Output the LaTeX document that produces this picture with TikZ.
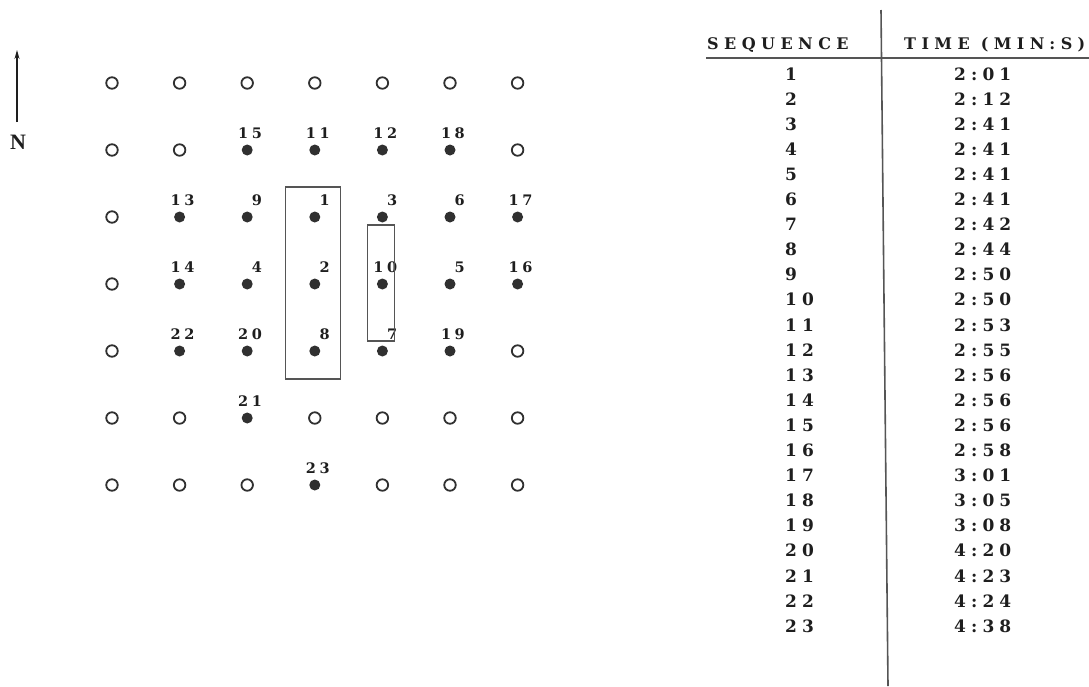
\documentclass[tikz,border=0pt]{standalone}
\usepackage{fontspec}
\setmainfont{Liberation Serif}
\newfontfamily\lblfont[LetterSpace=25]{DejaVu Serif}
\newfontfamily\hdrfont[LetterSpace=34]{DejaVu Serif}
\newfontfamily\tabfont[LetterSpace=30]{DejaVu Serif}
\usetikzlibrary{arrows.meta}
\definecolor{ink}{HTML}{1E1E1E}
\definecolor{dotc}{HTML}{303030}
\definecolor{rulec}{HTML}{555555}
\begin{document}
\begin{tikzpicture}[x=1pt,y=-1pt,
  opendot/.style={circle,draw=dotc,line width=1.8pt,minimum size=11.5pt,inner sep=0pt},
  fulldot/.style={circle,fill=dotc,minimum size=11pt,inner sep=0pt},
  lbl/.style={inner sep=0pt,text=ink,font=\lblfont\bfseries\fontsize{14.5}{15}\selectfont},
  hdr/.style={inner sep=0pt,text=ink,font=\hdrfont\bfseries\fontsize{16}{16}\selectfont},
  cell/.style={inner sep=0pt,text=ink,font=\tabfont\bfseries\fontsize{17}{17}\selectfont},
  box/.style={draw=rulec,line width=1.3pt},
  tabrule/.style={draw=rulec,line width=1.6pt}]
\useasboundingbox (0,0) rectangle (1089,686);
\fill[white] (0,0) rectangle (1089,686);
\clip (0,0) rectangle (1089,686);
% grid positions
\foreach \r in {1,...,7}{
  \foreach \c in {1,...,7}{
    \coordinate (p\r\c) at ({112+67.6*(\c-1)},{83+67*(\r-1)});
  }
}
% open holes
\foreach \r/\c in {1/1,1/2,1/3,1/4,1/5,1/6,1/7,
                   2/1,2/2,2/7,
                   3/1,
                   4/1,
                   5/1,5/7,
                   6/1,6/2,6/4,6/5,6/6,6/7,
                   7/1,7/2,7/3,7/5,7/6,7/7}{
  \node[opendot] (d\r\c) at (p\r\c) {};
}
% fired holes with sequence numbers
\foreach \r/\c/\l in {2/3/15,2/4/11,2/5/12,2/6/18,
                      3/2/13,3/3/9,3/4/1,3/5/3,3/6/6,3/7/17,
                      4/2/14,4/3/4,4/4/2,4/5/10,4/6/5,4/7/16,
                      5/2/22,5/3/20,5/4/8,5/5/7,5/6/19,
                      6/3/21,
                      7/4/23}{
  \node[fulldot] (d\r\c) at (p\r\c) {};
  \node[lbl,anchor=south east] (l\r\c) at ([shift={(15,-11)}]d\r\c.center) {\l};
}
% boxes
\draw[box] ([shift={(-29,-30)}]d34.center) rectangle ([shift={(26,28)}]d54.center);
\draw[box] ([shift={(-15,8)}]d35.center) rectangle ([shift={(12,-10)}]d55.center);
% north arrow
\node[inner sep=0pt,text=ink,font=\bfseries\fontsize{22}{22}\selectfont] (north) at (18,142) {N};
\coordinate (abase) at (17,122);
\coordinate (atip) at (17,50);
\draw[ink,line width=1.1pt,-{Stealth[length=9pt,width=5pt]}] (abase) -- (atip);
% table
\node[hdr,anchor=base west] (hseq) at (707,49) {SEQUENCE};
\node[hdr,anchor=base west] (htime) at (904,49) {TIME (MIN:S)};
\coordinate (rl) at (706,58);
\coordinate (rr) at (1089,58);
\draw[tabrule] (rl) -- (rr);
\coordinate (vt) at (881,10);
\coordinate (vb) at (888,686);
\draw[tabrule] (vt) -- (vb);
\foreach \s/\t [count=\k] in {1/2:01,2/2:12,3/2:41,4/2:41,5/2:41,6/2:41,7/2:42,8/2:44,
    9/2:50,10/2:50,11/2:53,12/2:55,13/2:56,14/2:56,15/2:56,16/2:58,17/3:01,18/3:05,
    19/3:08,20/4:20,21/4:23,22/4:24,23/4:38}{
  \node[cell,anchor=base west] (s\k) at (785,{80+25.1*(\k-1)}) {\s};
  \node[cell,anchor=base west] (t\k) at (954,{80+25.1*(\k-1)}) {\t};
}
\end{tikzpicture}
\end{document}
